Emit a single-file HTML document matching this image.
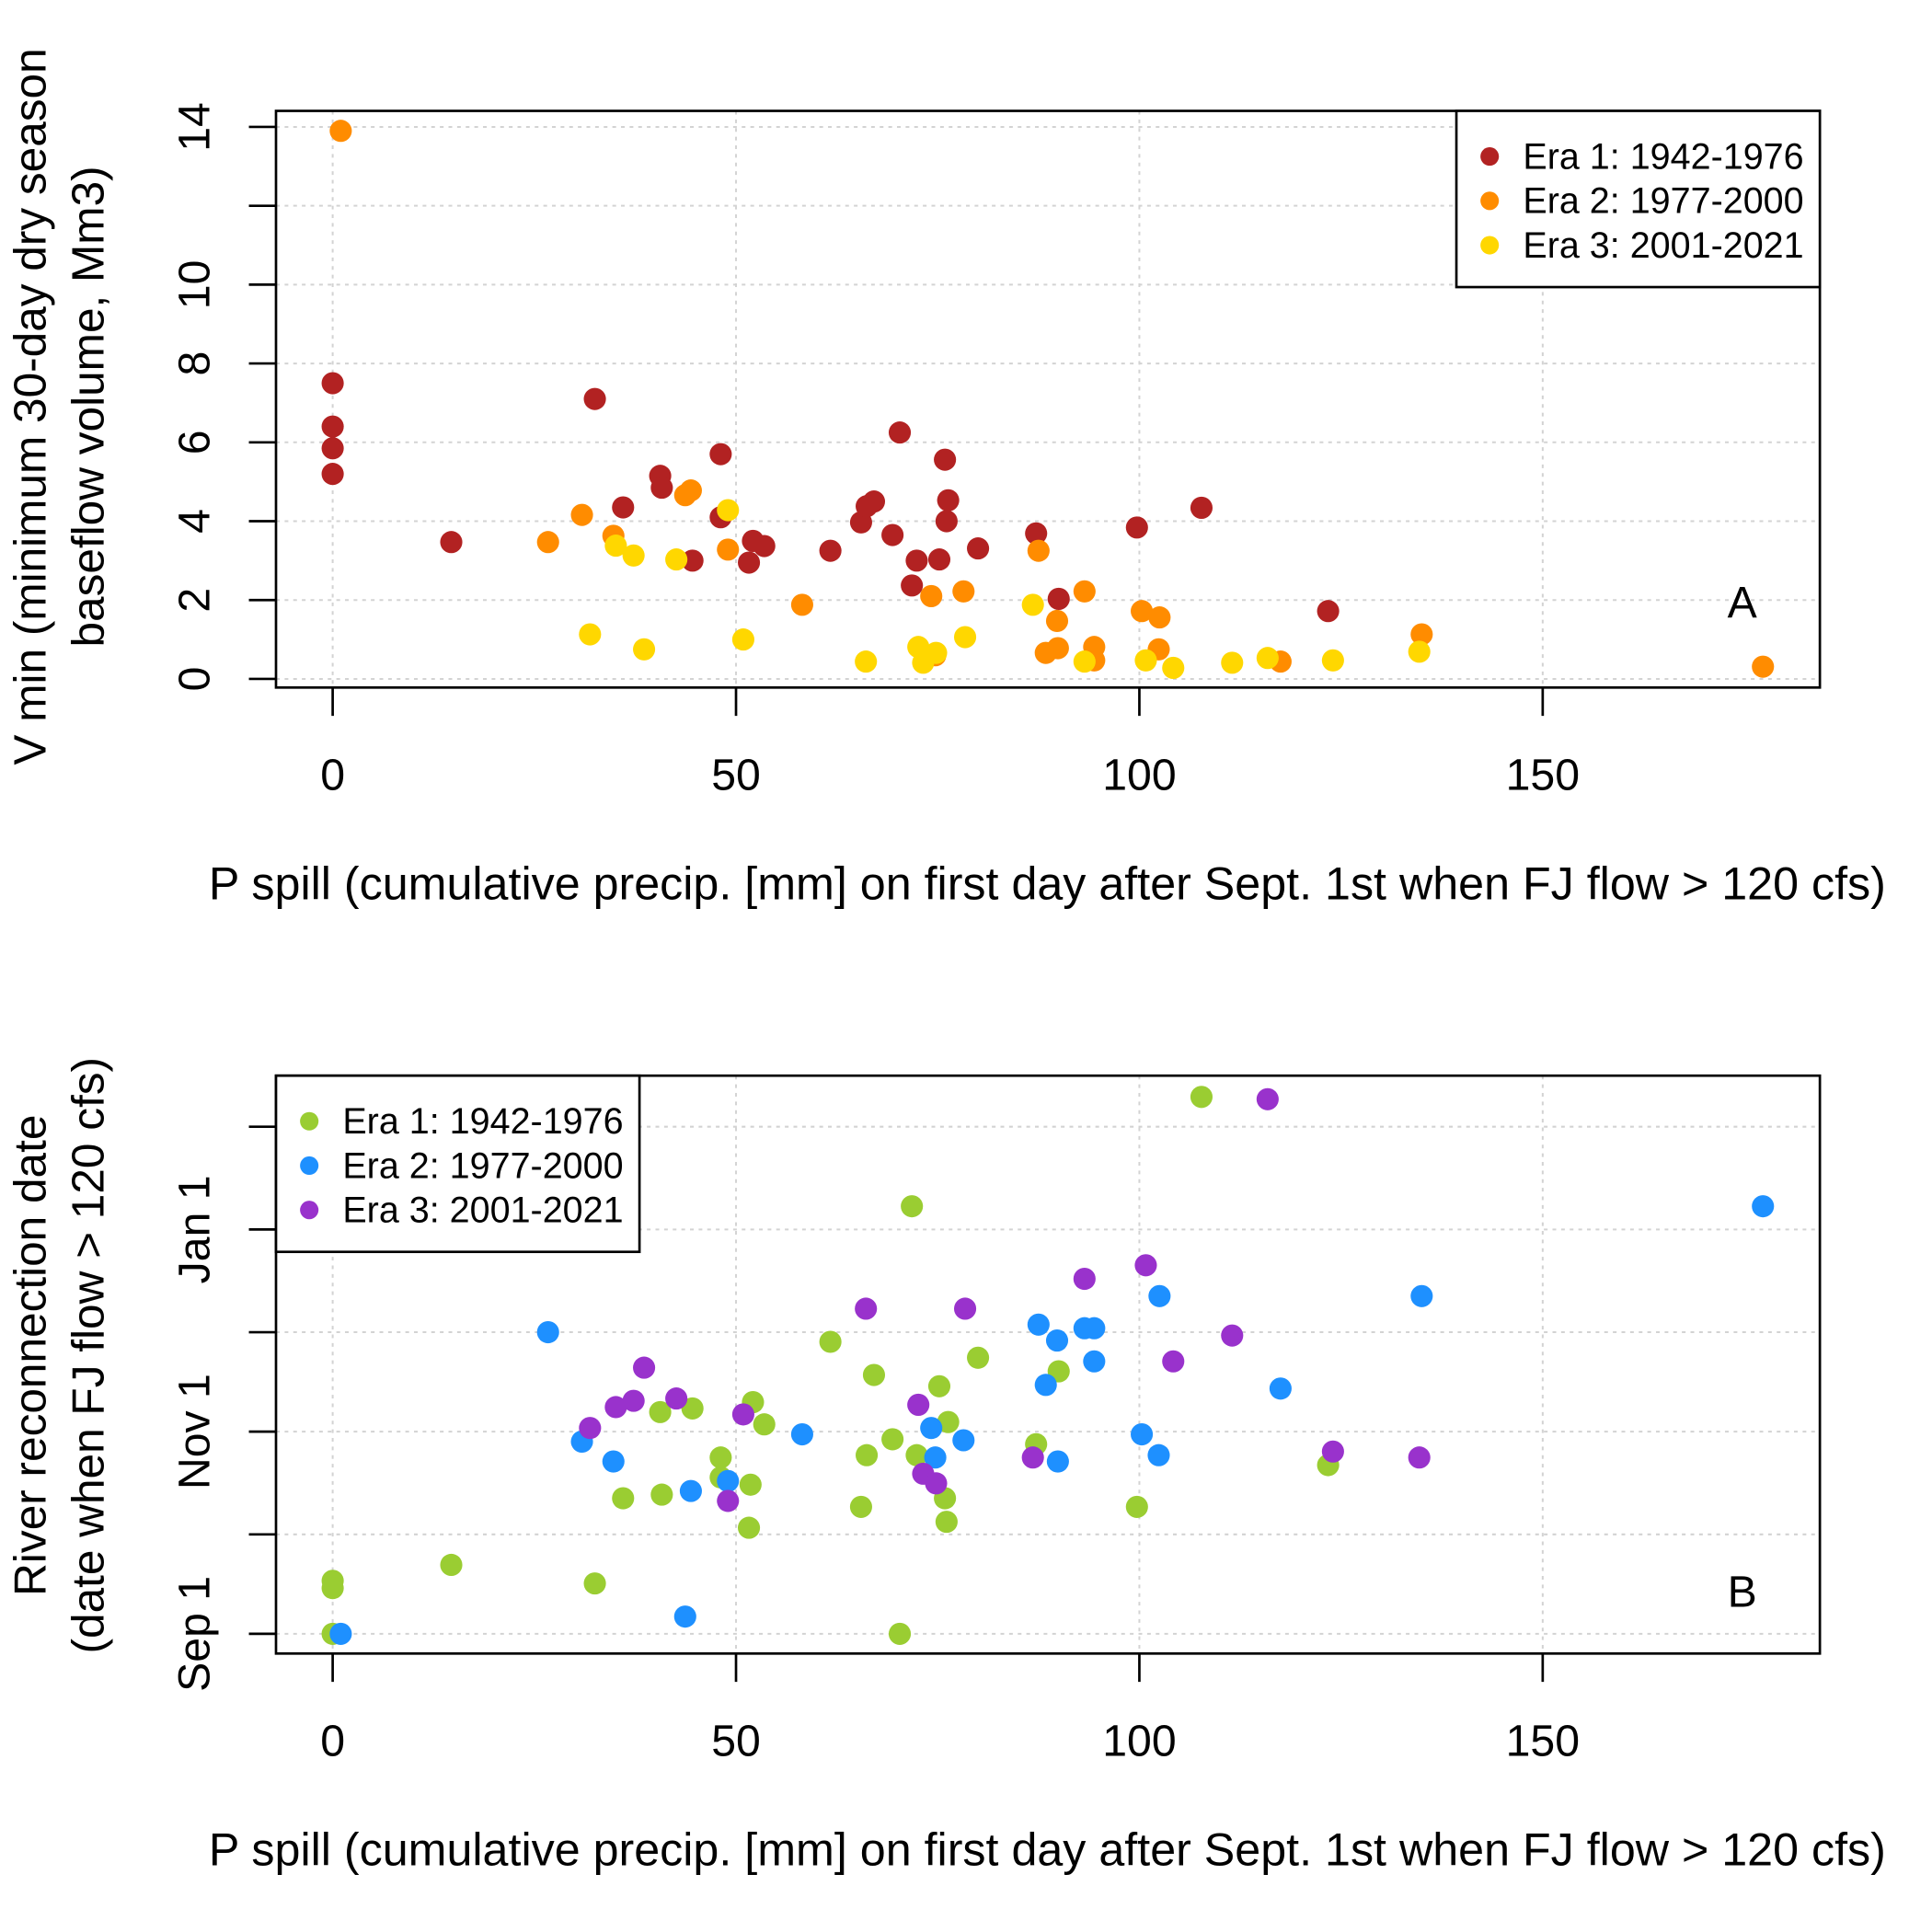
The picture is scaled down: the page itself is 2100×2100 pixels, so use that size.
<!DOCTYPE html>
<html><head><meta charset="utf-8"><style>html,body{margin:0;padding:0;background:#fff}svg{display:block}text{font-family:"Liberation Sans",Arial,sans-serif;fill:#000}</style></head>
<body>
<svg id="chart" width="2100" height="2100" viewBox="0 0 1568 1568" xmlns="http://www.w3.org/2000/svg"></svg>
<script>
const xTicks=[0,50,100,150];
const aYTicks=[0,2,4,6,8,10,12,14];
const aYLabels=["0","2","4","6","8","10","","14"];
const bYTicks=[0,30,61,91,122,153];
const bYLabels=["Sep 1","","Nov 1","","Jan 1",""];
const eraNames=["Era 1: 1942-1976","Era 2: 1977-2000","Era 3: 2001-2021"];
const aE1x=[0,0,0,0,14.7,32.5,36,40.6,40.8,44.6,48.1,48.1,51.6,52.1,53.5,61.7,65.5,66.2,67.1,69.4,70.3,71.8,72.4,75.2,75.9,76.3,76.1,80,87.2,90,99.7,107.7,123.4];
const aE1y=[7.5,6.4,5.85,5.2,3.47,7.1,4.35,5.15,4.85,3.0,5.7,4.1,2.95,3.5,3.37,3.25,3.97,4.38,4.5,3.65,6.25,2.37,3.0,3.03,5.56,4.53,4.0,3.31,3.69,2.03,3.84,4.34,1.72];
const aE2x=[1,26.7,30.9,34.8,43.7,44.4,49,58.2,74.2,78.2,87.5,93.2,89.8,100.3,102.5,88.4,89.9,94.4,94.4,102.4,117.5,135,177.3,74.7];
const aE2y=[13.9,3.47,4.16,3.63,4.66,4.78,3.28,1.88,2.1,2.22,3.25,2.22,1.47,1.72,1.56,0.66,0.78,0.81,0.47,0.75,0.44,1.13,0.31,0.6];
const aE3x=[31.9,35.1,37.3,38.6,42.6,49,50.9,66.1,72.6,73.2,74.8,78.4,86.8,93.2,100.8,104.2,111.5,115.9,124,134.7];
const aE3y=[1.13,3.38,3.13,0.75,3.03,4.28,1.0,0.44,0.81,0.41,0.66,1.06,1.88,0.44,0.47,0.28,0.41,0.53,0.47,0.69];
const bE1x=[0,0,0,14.7,32.5,36,40.6,40.8,44.6,48.1,48.1,51.6,52.1,51.8,53.5,61.7,65.5,66.2,67.1,69.4,70.3,71.8,72.4,75.2,75.9,76.3,76.1,80,87.2,90,99.7,107.7,123.4];
const bE1y=[16,13.8,0,20.8,15.2,40.9,66.9,42,68,53.2,47.2,32,69.9,45,63.2,88.1,38.3,53.9,78.1,58.7,0,129,53.9,74.7,40.9,63.9,33.8,83.3,57.2,79.2,38.3,162,50.9];
const bE2x=[1,26.7,30.9,34.8,43.7,44.4,49,58.2,74.2,78.2,87.5,93.2,89.8,94.4,94.4,88.4,89.9,100.3,102.5,102.4,117.5,135,177.3,74.7];
const bE2y=[0,91,58,52,5.2,43.1,46.1,60.2,62.1,58.4,93.3,92.2,88.5,92.2,82.2,75.1,52,60.2,101.9,53.9,74,101.9,129,53.2];
const bE3x=[31.9,35.1,37.3,38.6,42.6,49,50.9,66.1,72.6,73.2,74.8,78.4,86.8,93.2,100.8,104.2,111.5,115.9,124,134.7];
const bE3y=[62.1,68.4,70.3,80.3,71,40.1,66.2,98.1,69.1,48.3,45.4,98.1,53.2,107.1,111.2,82.2,90,161.3,55,53.2];

const NS="http://www.w3.org/2000/svg";
const svg=document.getElementById('chart');
function mk(tag,attrs,parent,txt){const e=document.createElementNS(NS,tag);for(const k in attrs)e.setAttribute(k,attrs[k]);if(txt!==undefined)e.textContent=txt;(parent||svg).appendChild(e);return e;}
const xs=v=>270+v*6.547;

function panel(cfg){
  const g=mk('g',{});
  
  
  const L=224,R=1477,T=cfg.top,B=cfg.bottom;
  xTicks.forEach(t=>{const l=mk('line',{x1:xs(t),x2:xs(t),y1:T,y2:B,stroke:'#d3d3d3','stroke-width':1.5,'stroke-dasharray':'3,4'},g);
    });
  cfg.yTicks.forEach(t=>{const l=mk('line',{x1:L,x2:R,y1:cfg.ys(t),y2:cfg.ys(t),stroke:'#d3d3d3','stroke-width':1.5,'stroke-dasharray':'3,4'},g);
    });
  cfg.series.forEach((s,si)=>{s.x.forEach((xv,i)=>{const c=mk('circle',{cx:xs(xv),cy:cfg.ys(s.y[i]),r:9,fill:s.color},g);
    });});
  const box=mk('rect',{x:L,y:T,width:R-L,height:B-T,fill:'none',stroke:'#000','stroke-width':2},g);
  
  const xa=mk('g',{},g);
  xTicks.forEach(t=>{mk('line',{x1:xs(t),x2:xs(t),y1:B,y2:B+23,stroke:'#000','stroke-width':2},xa);
    const tx=mk('text',{x:xs(t),y:B+83,'text-anchor':'middle','font-size':36},xa,String(t));
    });
  const ya=mk('g',{},g);
  cfg.yTicks.forEach((t,i)=>{const y=cfg.ys(t);
    mk('line',{x1:L-22,x2:L,y1:y,y2:y,stroke:'#000','stroke-width':2},ya);
    if(cfg.yLabels[i]){const tx=mk('text',{x:170,y:y,'text-anchor':'middle','font-size':36,transform:`rotate(-90 170 ${y})`},ya,cfg.yLabels[i]);
      }});
  const xt=mk('text',{x:850,y:B+172,'text-anchor':'middle','font-size':37.5},g,'P spill (cumulative precip. [mm] on first day after Sept. 1st when FJ flow > 120 cfs)');
  
  const cy=cfg.titleY;
  const t1=mk('text',{x:37,y:cy,'text-anchor':'middle','font-size':37,transform:`rotate(-90 37 ${cy})`},g,cfg.t1);
  
  const t2=mk('text',{x:84,y:cy,'text-anchor':'middle','font-size':37,transform:`rotate(-90 84 ${cy})`},g,cfg.t2);
  
  const pl=mk('text',{x:1414,y:cfg.letterY,'text-anchor':'middle','font-size':36},g,cfg.letter);
  
  const lg=mk('g',{},g);
  const lx=cfg.legX,ly=cfg.legY;
  mk('rect',{x:lx,y:ly,width:cfg.legW,height:143,fill:'#fff',stroke:'#000','stroke-width':2},lg);
  cfg.series.forEach((s,i)=>{const e=mk('g',{},lg);
    mk('circle',{cx:lx+27,cy:ly+37+i*36,r:7.5,fill:s.color},e);
    mk('text',{x:lx+54,y:ly+47+i*36,'font-size':29.5},e,eraNames[i]);});
}
panel({name:'panel-a',top:90,bottom:558,ys:v=>551-v*32,yTicks:aYTicks,yLabels:aYLabels,
  series:[{x:aE1x,y:aE1y,color:'#B22222'},{x:aE2x,y:aE2y,color:'#FF8C00'},{x:aE3x,y:aE3y,color:'#FFD700'}],
  t1:'V min (minimum 30-day dry season',t2:'baseflow volume, Mm3)',titleY:330,letter:'A',letterY:501,legX:1182,legY:90,legW:295});
panel({name:'panel-b',top:873,bottom:1342,ys:v=>1326-v*2.69,yTicks:bYTicks,yLabels:bYLabels,
  series:[{x:bE1x,y:bE1y,color:'#9ACD32'},{x:bE2x,y:bE2y,color:'#1E90FF'},{x:bE3x,y:bE3y,color:'#9932CC'}],
  t1:'River reconnection date',t2:'(date when FJ flow > 120 cfs)',titleY:1100,letter:'B',letterY:1304,legX:224,legY:873,legW:295});
</script>
</body></html>
